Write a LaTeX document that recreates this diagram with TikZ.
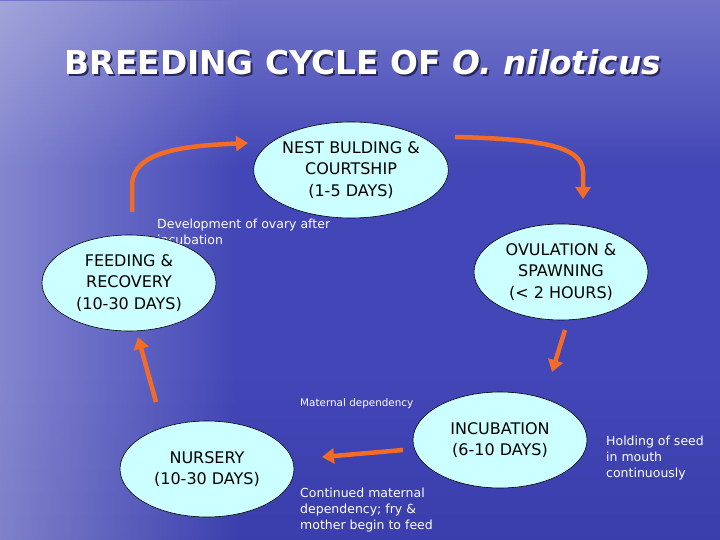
\documentclass[tikz,border=0pt]{standalone}
\usepackage{fontspec}
\setmainfont{DejaVu Sans}
\usetikzlibrary{shapes.geometric,arrows.meta,fadings}
\definecolor{bgbase}{RGB}{66,70,182}
\definecolor{bgdark}{RGB}{54,58,168}
\definecolor{stagefill}{RGB}{204,255,255}
\definecolor{arroworange}{RGB}{242,108,38}
\definecolor{shadowblue}{RGB}{40,40,90}
\tikzset{
  stage/.style={ellipse, draw=black, line width=0.6pt, fill=stagefill,
    minimum width=174pt, minimum height=96pt, inner sep=0pt, align=center,
    font=\fontsize{16}{21.5}\selectfont, text=black},
  cyclearrow/.style={draw=arroworange, line width=4.5pt,
    -{Triangle[width=15pt,length=12pt]}},
  note/.style={text=white, inner sep=0pt, align=left,
    font=\fontsize{12.5}{16}\selectfont},
  titletext/.style={font=\fontsize{32.8}{38}\selectfont\bfseries, inner sep=0pt}
}
\begin{document}
\begin{tikzpicture}[x=1pt,y=-1pt]
\useasboundingbox (0,0) rectangle (720,540);
% background
\fill[bgbase] (0,0) rectangle (720,540);
\fill[bgdark, opacity=0.6, path fading=north] (0,380) rectangle (720,540);
\fill[white, opacity=0.25, path fading=south] (0,0) rectangle (720,170);
\fill[white, opacity=0.35, path fading=east] (0,0) rectangle (240,540);
% title
\node[titletext, text=shadowblue, anchor=base] (titleshadow) at (365,77) {BREEDING CYCLE OF \textit{O. niloticus}};
\node[titletext, text=white, anchor=base] (title) at (363,75) {BREEDING CYCLE OF \textit{O. niloticus}};
% notes (drawn before ellipses so that they are overlapped); anchor = last baseline
\node[note, anchor=base west] (ovary) at (157,244) {Development of ovary after\\incubation};
\node[note, anchor=base west, font=\fontsize{10.4}{14}\selectfont] (maternal) at (300,406) {Maternal dependency};
\node[note, anchor=base west] (holding) at (606,477) {Holding of seed\\in mouth\\continuously};
\node[note, anchor=base west] (continued) at (300,529) {Continued maternal\\dependency; fry \&\\mother begin to feed};
% stages
\node[stage] (nest) at (351,170) {NEST BULDING \&\\COURTSHIP\\(1-5 DAYS)};
\node[stage] (ovul) at (561,272) {OVULATION \&\\SPAWNING\\(< 2 HOURS)};
\node[stage] (incub) at (500,440) {INCUBATION\\(6-10 DAYS)};
\node[stage] (nursery) at (207,469) {NURSERY\\(10-30 DAYS)};
\node[stage] (feed) at (129,283) {FEEDING \&\\RECOVERY\\(10-30 DAYS)};
% arrow end points
\coordinate (a1s) at (132,212);
\coordinate (a1e) at (248,143);
\coordinate (a2s) at (455,137);
\coordinate (a2e) at (583,199);
\coordinate (a3s) at (565,330);
\coordinate (a3e) at (552,372);
\coordinate (a4s) at (403,450);
\coordinate (a4e) at (322,457);
\coordinate (a5s) at (156,402);
\coordinate (a5e) at (138,337);
% arrows
\draw[cyclearrow] (a1s) -- (132,185) .. controls (133,152) and (180,146) .. (a1e);
\draw[cyclearrow] (a2s) .. controls (540,139) and (583,146) .. (583,172) -- (a2e);
\draw[cyclearrow] (a3s) -- (a3e);
\draw[cyclearrow] (a4s) -- (a4e);
\draw[cyclearrow] (a5s) -- (a5e);
\end{tikzpicture}
\end{document}
